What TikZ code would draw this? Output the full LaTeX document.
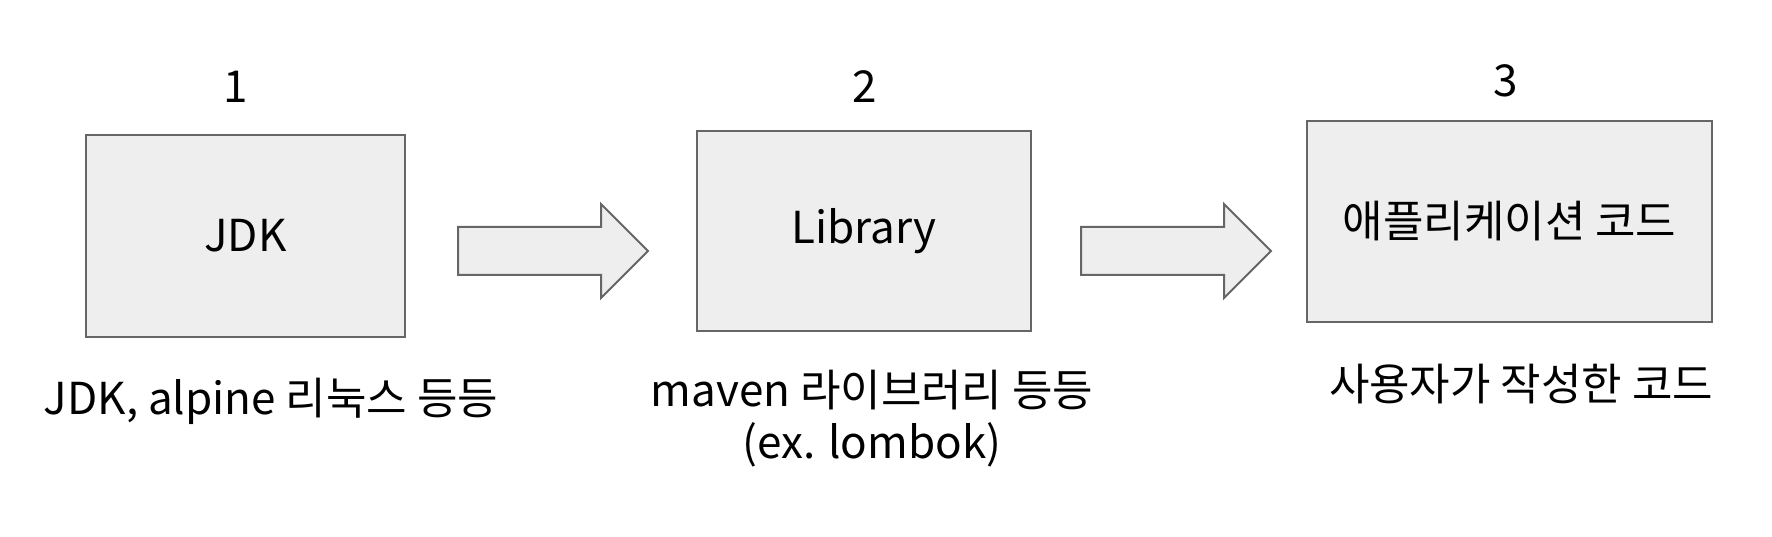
\documentclass[tikz,border=0pt]{standalone}
\usepackage{fontspec}
\setmainfont{Noto Sans CJK KR}
\usetikzlibrary{shapes.arrows}
\definecolor{boxline}{HTML}{666666}
\definecolor{boxfill}{HTML}{EEEEEE}
\begin{document}
\begin{tikzpicture}[x=1pt,y=1pt,
  layer/.style={draw=boxline,fill=boxfill,line width=2pt,inner sep=0pt},
  flow/.style={single arrow,draw=boxline,fill=boxfill,line width=2pt,inner sep=0pt,
    text height=23pt,text depth=23pt,
    minimum height=190pt,minimum width=92pt,single arrow head extend=23pt,single arrow tip angle=90},
  txt/.style={font=\fontsize{44}{52}\selectfont}]
\useasboundingbox (0,0) rectangle (1772,536);
\node[layer,txt,minimum width=319pt,minimum height=202pt] (jdk) at (245.5,300) {JDK} ;
\node[layer,txt,minimum width=334pt,minimum height=200pt] (lib) at (864,305) {Library} ;
\node[layer,txt,minimum width=405pt,minimum height=201pt] (app) at (1509.5,314.5) {애플리케이션 코드} ;
\node[txt] (n1) at (236,449) {1};
\node[txt] (n2) at (864.5,449) {2};
\node[txt] (n3) at (1506,455) {3};
\node[flow] (a1) at (541,285) {};
\node[flow] (a2) at (1164,285) {};
\node[txt] (d1) at (271,135) {JDK, alpine 리눅스 등등};
\node[txt,align=center] (d2) at (872,117) {maven 라이브러리 등등\\(ex. lombok)};
\node[txt] (d3) at (1521,152) {사용자가 작성한 코드};
\end{tikzpicture}
\end{document}
